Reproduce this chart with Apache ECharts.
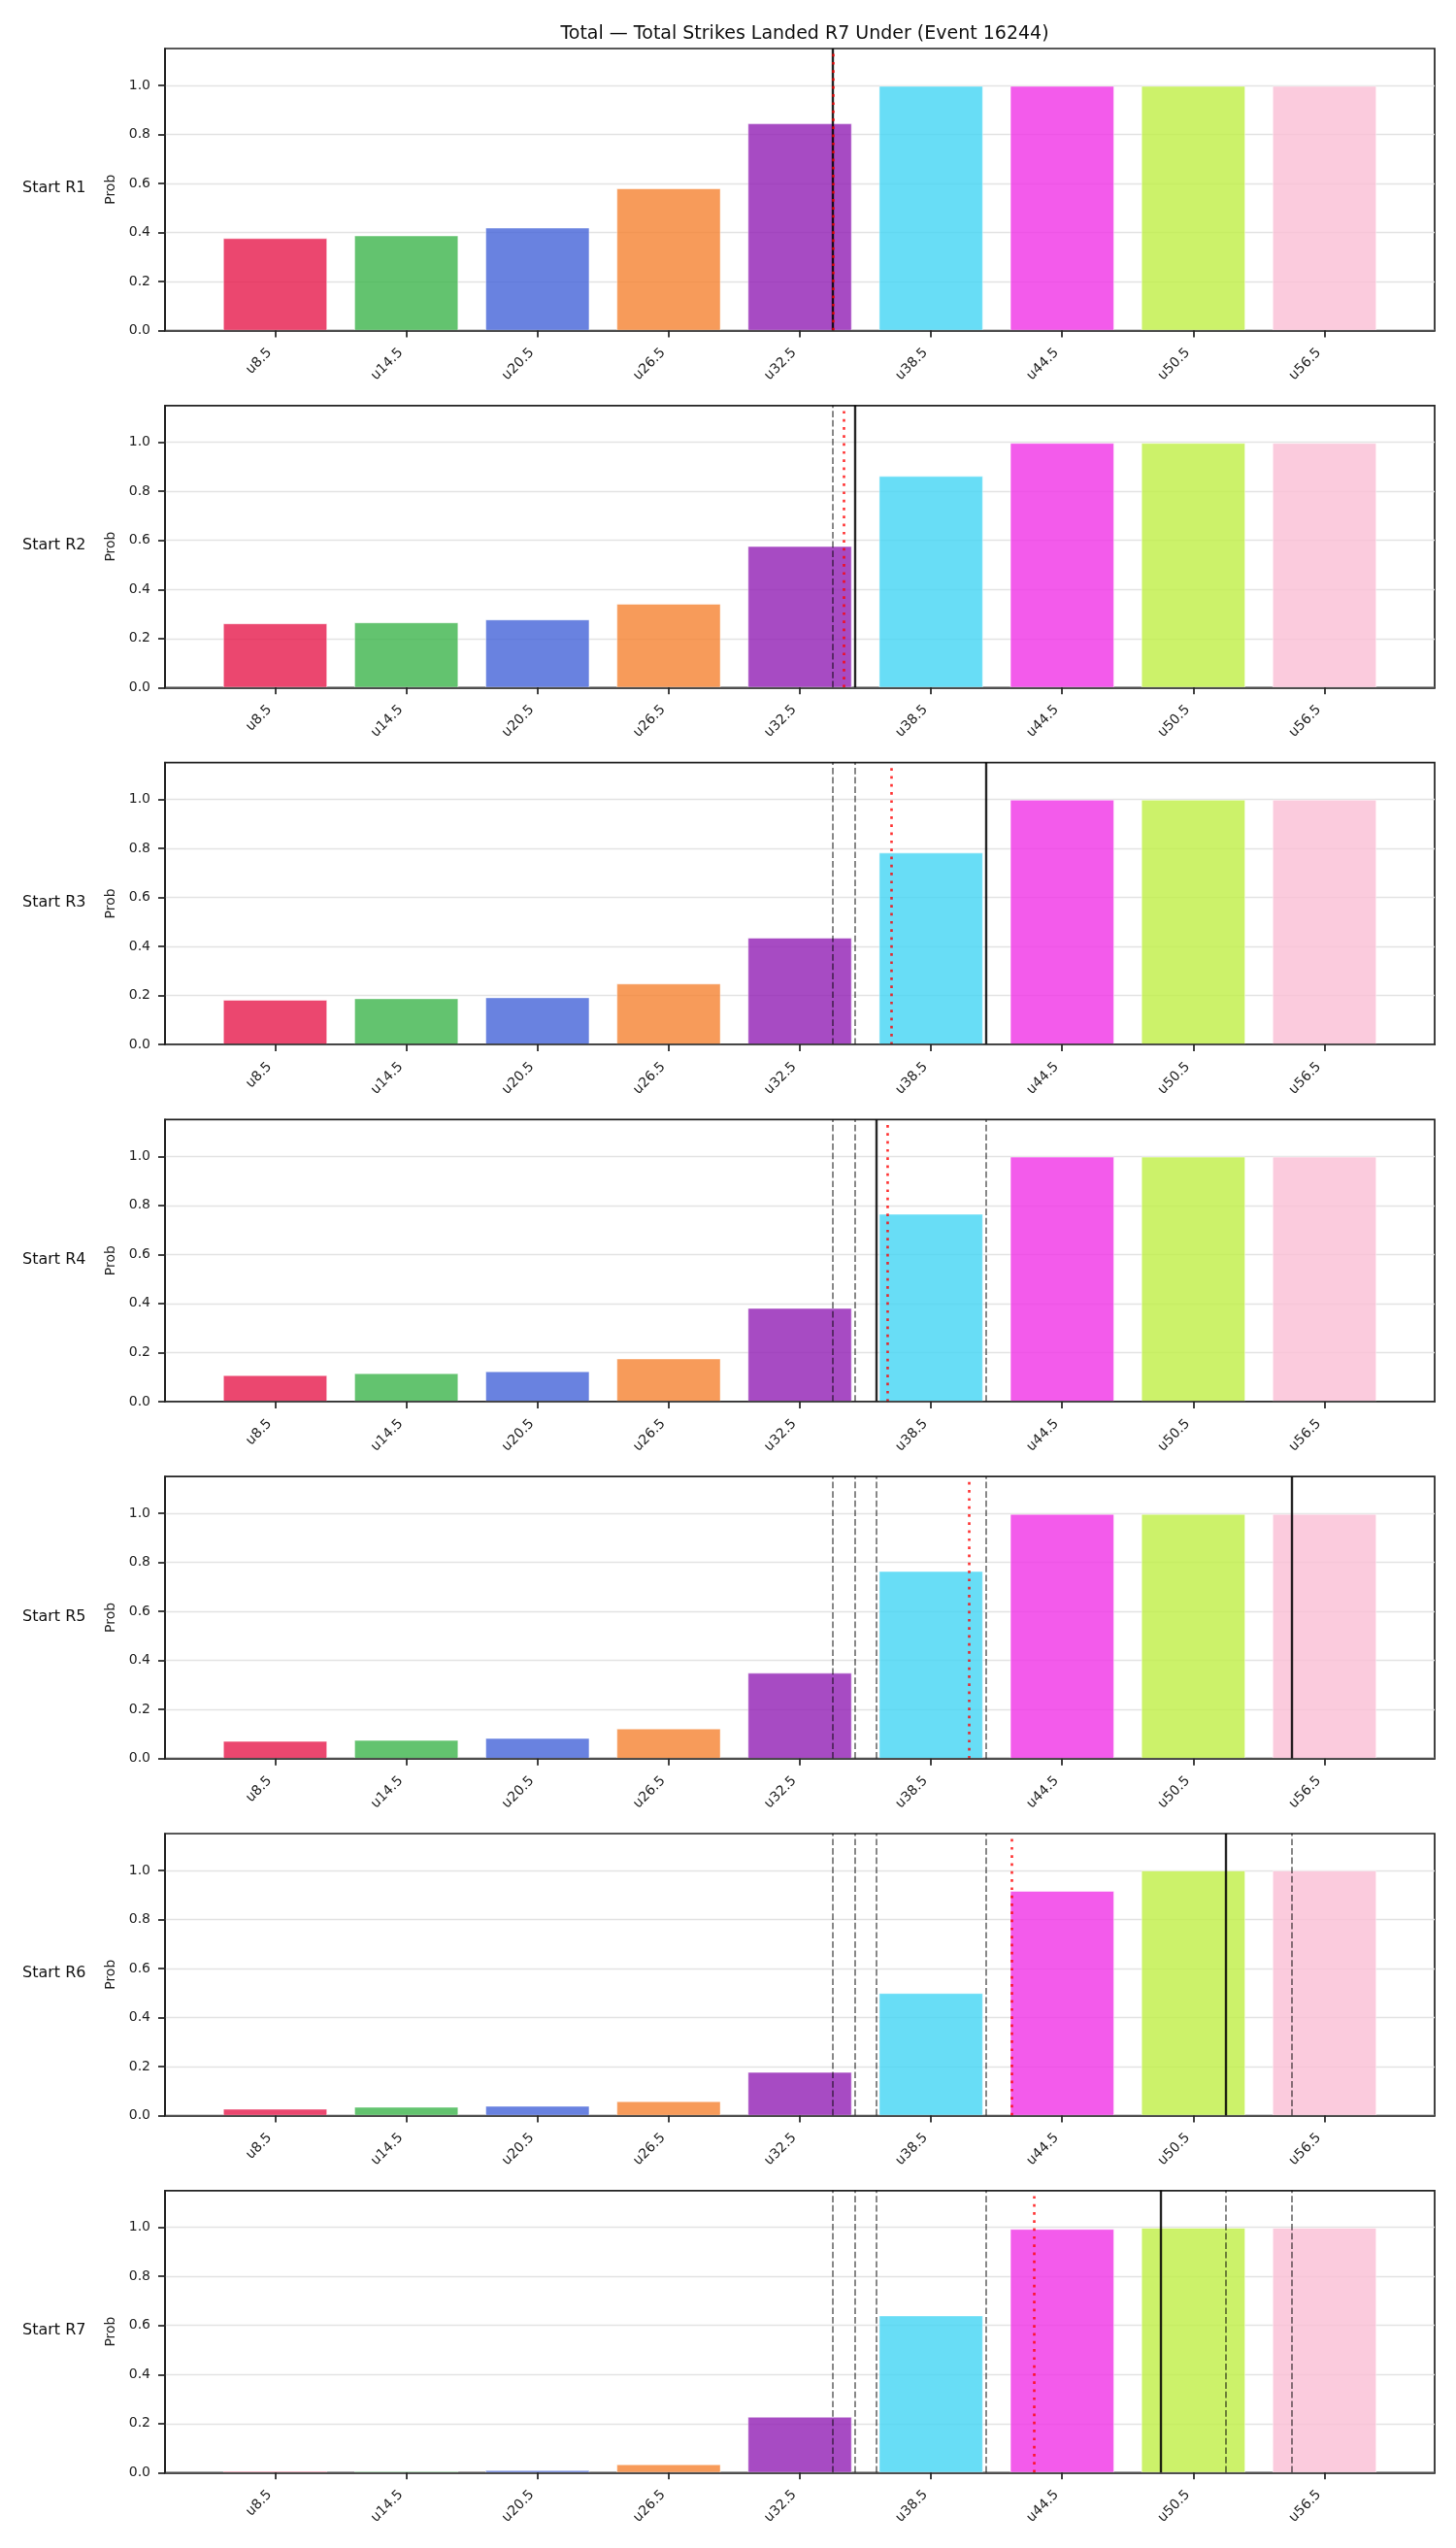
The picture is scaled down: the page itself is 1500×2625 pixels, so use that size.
<!DOCTYPE html>
<html>
<head>
<meta charset="utf-8">
<script src="https://cdn.jsdelivr.net/npm/echarts@6/dist/echarts.min.js"></script>
<style>
  html, body { margin: 0; padding: 0; background: #fff; }
  #chart { width: 1500px; height: 2625px; }
</style>
</head>
<body>
<div id="chart"></div>
<script>
// 数据
const categories = ['u8.5', 'u14.5', 'u20.5', 'u26.5', 'u32.5', 'u38.5', 'u44.5', 'u50.5', 'u56.5'];
const rowLabels = ['Start R1', 'Start R2', 'Start R3', 'Start R4', 'Start R5', 'Start R6', 'Start R7'];

const probR1 = [0.376, 0.387, 0.419, 0.579, 0.844, 0.997, 0.997, 0.997, 0.997];
const probR2 = [0.261, 0.265, 0.277, 0.341, 0.576, 0.862, 0.997, 0.997, 0.997];
const probR3 = [0.182, 0.188, 0.192, 0.248, 0.435, 0.782, 0.998, 0.998, 0.998];
const probR4 = [0.107, 0.115, 0.123, 0.175, 0.381, 0.765, 0.998, 0.998, 0.998];
const probR5 = [0.071, 0.075, 0.083, 0.122, 0.349, 0.764, 0.997, 0.997, 0.997];
const probR6 = [0.027, 0.035, 0.039, 0.058, 0.177, 0.499, 0.916, 0.999, 0.999];
const probR7 = [0.005, 0.005, 0.009, 0.033, 0.227, 0.640, 0.993, 0.998, 0.998];
const probRows = [probR1, probR2, probR3, probR4, probR5, probR6, probR7];

// 每一行的实线(黑)和点线(红)位置，单位：击中数
const currentMark = [34, 35, 41, 36, 55, 52, 49];
const projectedMark = [34, 34.5, 36.7, 36.5, 40.25, 42.2, 43.2];

const yTicks = [0, 0.2, 0.4, 0.6, 0.8, 1.0];
const yMax = 1.15;

const barColors = ['#e6194b', '#3cb44b', '#4363d8', '#f58231', '#911eb4',
                   '#42d4f4', '#f032e6', '#bfef45', '#fabed4'];

// 阈值位置(从标签里取数字)
const thresholds = categories.map(c => parseFloat(c.slice(1)));
const step = thresholds[1] - thresholds[0];
const span = thresholds[thresholds.length - 1] - thresholds[0] + 0.8 * step;
const xMin = thresholds[0] - 0.4 * step - 0.05 * span;
const xMax = thresholds[thresholds.length - 1] + 0.4 * step + 0.05 * span;

const FONT = 'DejaVu Sans';
const gridLeft = 170;
const gridWidth = 1308;
const gridHeight = 290.5;
const firstTop = 50;
const rowGap = 367.8;

const grids = [], xAxes = [], yAxes = [], series = [], graphics = [];

probRows.forEach((row, i) => {
    const top = firstTop + i * rowGap;
    grids.push({
        left: gridLeft, top: top, width: gridWidth, height: gridHeight,
        show: true, borderColor: '#222', borderWidth: 1.7, backgroundColor: 'transparent'
    });
    xAxes.push({
        gridIndex: i,
        type: 'value',
        min: xMin,
        max: xMax,
        z: 5,
        axisLine: { show: true, onZero: false, lineStyle: { color: '#222', width: 1.7 } },
        axisTick: { show: true, customValues: thresholds, length: 7, lineStyle: { color: '#222', width: 1.7 } },
        axisLabel: {
            show: true,
            customValues: thresholds,
            rotate: 45,
            margin: 15,
            padding: [0, 8, 0, 0],
            fontFamily: FONT,
            fontSize: 14,
            color: '#222',
            formatter: function (v) {
                const k = thresholds.indexOf(v);
                return k >= 0 ? categories[k] : '';
            }
        },
        splitLine: { show: false }
    });
    yAxes.push({
        gridIndex: i,
        type: 'value',
        min: 0,
        max: yMax,
        interval: 0.2,
        name: 'Prob',
        nameLocation: 'middle',
        nameGap: 48,
        nameTextStyle: { fontFamily: FONT, fontSize: 14, color: '#222' },
        axisLine: { show: true, lineStyle: { color: '#222', width: 1.7 } },
        axisTick: { show: true, customValues: yTicks, length: 7, lineStyle: { color: '#222', width: 1.7 } },
        axisLabel: {
            customValues: yTicks,
            margin: 15, fontFamily: FONT, fontSize: 14, color: '#222',
            formatter: v => v.toFixed(1)
        },
        splitLine: { show: true, lineStyle: { color: '#e3e3e3', width: 1.3 } }
    });

    // 之前几行的黑线，在这里画成灰色虚线
    const marks = [];
    for (let k = 0; k < i; k++) {
        marks.push({
            xAxis: currentMark[k],
            lineStyle: { color: 'rgba(0,0,0,0.55)', width: 1.7, type: [6.7, 2.9] }
        });
    }
    marks.push({ xAxis: currentMark[i], lineStyle: { color: 'rgba(0,0,0,0.85)', width: 2.4, type: 'solid' } });
    marks.push({ xAxis: projectedMark[i], lineStyle: { color: 'rgba(255,0,0,0.8)', width: 2.6, type: [2.7, 5.6] } });

    series.push({
        type: 'bar',
        xAxisIndex: i,
        yAxisIndex: i,
        barWidth: 107,
        data: row.map((v, j) => ({
            value: [thresholds[j], v],
            itemStyle: { color: barColors[j], opacity: 0.8, borderColor: '#fff', borderWidth: 0.6 }
        })),
        markLine: {
            silent: true,
            symbol: ['none', 'none'],
            label: { show: false },
            emphasis: { disabled: true },
            animation: false,
            data: marks
        }
    });

    graphics.push({
        type: 'text',
        left: 23,
        top: top + gridHeight / 2 - 9,
        style: { text: rowLabels[i], fontFamily: FONT, fontSize: 16, fill: '#111' }
    });
});

const option = {
    animation: false,
    backgroundColor: '#fff',
    title: {
        text: 'Total \u2014 Total Strikes Landed R7 Under (Event 16244)',
        left: gridLeft + gridWidth / 2,
        textAlign: 'center',
        top: 21,
        textStyle: { fontFamily: FONT, fontSize: 19, fontWeight: 'normal', color: '#111' }
    },
    grid: grids,
    xAxis: xAxes,
    yAxis: yAxes,
    series: series,
    graphic: graphics
};

const myChart = echarts.init(document.getElementById('chart'), null, { renderer: 'canvas' });
myChart.setOption(option);
</script>
</body>
</html>
